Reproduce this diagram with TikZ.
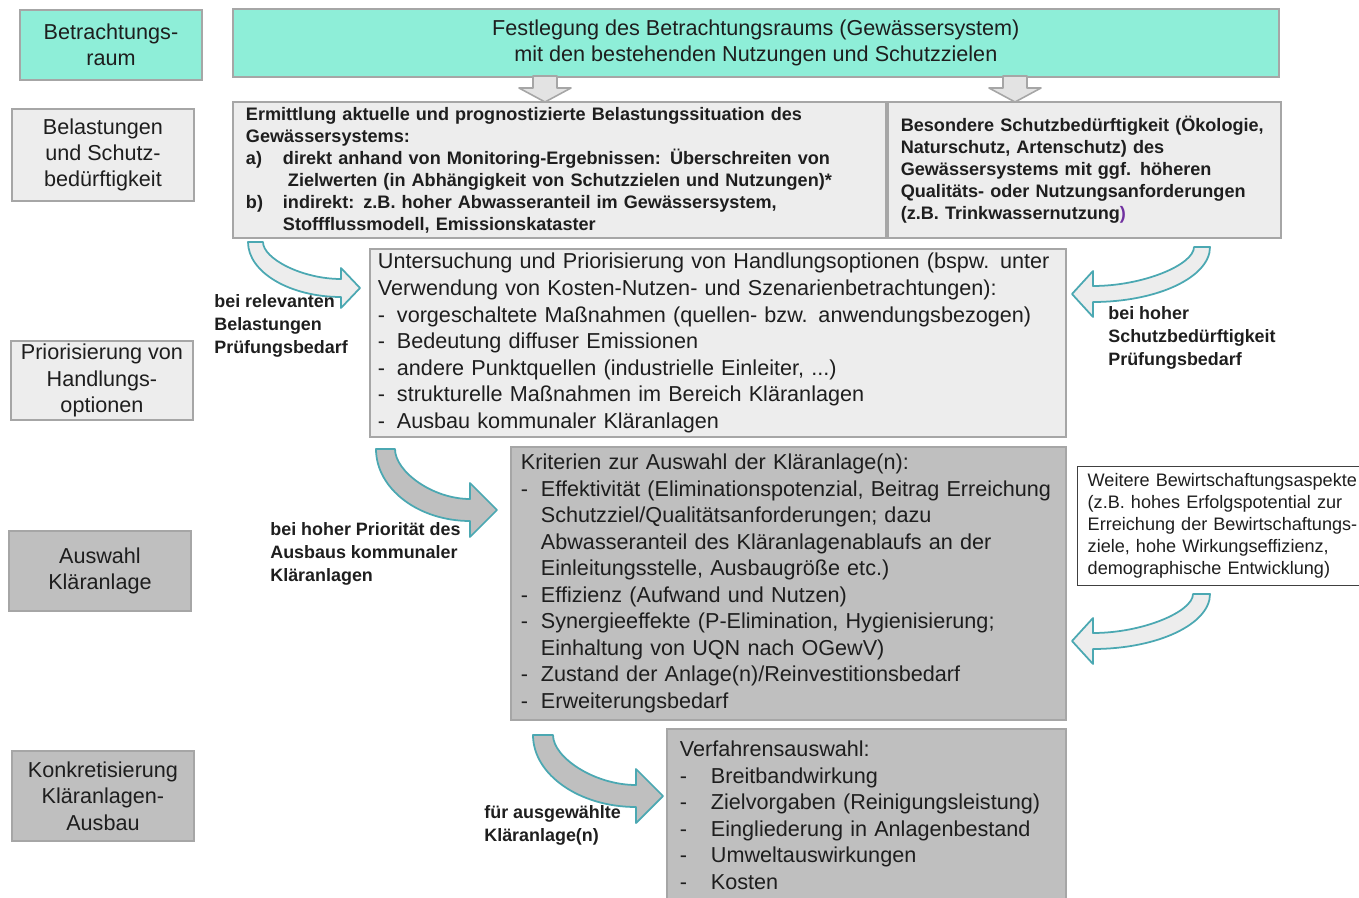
\documentclass[tikz,border=0pt]{standalone}
\usepackage{fontspec}
\setmainfont{Liberation Sans}
\usetikzlibrary{calc}
\definecolor{mint}{RGB}{142,238,216}
\definecolor{lightbox}{RGB}{237,237,237}
\definecolor{darkbox}{RGB}{191,191,191}
\definecolor{boxline}{RGB}{166,166,166}
\definecolor{arrline}{RGB}{75,168,178}
\definecolor{txt}{RGB}{30,30,30}
\definecolor{lila}{RGB}{112,48,160}
\newcommand\setfs[2]{\fontsize{#1}{#2}\selectfont}
\newcommand\dashit[1]{\par\noindent\makebox[#1][l]{-}\ignorespaces}
\newcommand\contit[1]{\par\noindent\hspace*{#1}\ignorespaces}
\tikzset{box/.style={draw=boxline,line width=1.1pt,anchor=north west,inner sep=0pt,text=txt},
  sidelabel/.style={box,minimum width=3.64cm,align=center,font=\setfs{12.3}{15}},
  mainbox/.style={box,font=\setfs{12.3}{15.1}},
  boldbox/.style={box,font=\bfseries\setfs{10.3}{12.5}},
  armnote/.style={anchor=west,align=left,font=\bfseries\setfs{10.2}{13.2},text=txt,inner sep=0pt},
  bentarr/.style={draw=arrline,line width=1pt,line join=round},
  downarr/.style={draw=boxline,fill=gray!22,line width=0.9pt,line join=round}}

\begin{document}
\begin{tikzpicture}[x=0.02cm,y=-0.02cm]
\useasboundingbox (0,0) rectangle (1359,898);
% Ebenen links
\node[sidelabel,fill=mint,minimum height=1.4cm] (raumlbl) at (19,9) {Betrachtungs-\\raum};
\node[sidelabel,fill=lightbox,minimum height=1.84cm] (belastlbl) at (11,108) {Belastungen\\und Schutz-\\bedürftigkeit};
\node[sidelabel,fill=lightbox,minimum height=1.58cm] (priolbl) at (10,340) {Priorisierung von\\Handlungs-\\optionen};
\node[sidelabel,fill=darkbox,minimum height=1.6cm] (wahllbl) at (8,530) {Auswahl\\Kläranlage};
\node[sidelabel,fill=darkbox,minimum height=1.8cm] (konklbl) at (11,750) {Konkretisierung\\Kläranlagen-\\Ausbau};
% Ablauf
\node[mainbox,fill=mint,minimum width=20.92cm,minimum height=1.36cm,align=center] (raum) at (232,8) {Festlegung des Betrachtungsraums (Gewässersystem)\\mit den bestehenden Nutzungen und Schutzzielen};
\node[boldbox,fill=lightbox,minimum width=13.06cm,minimum height=2.72cm,text width=12.54cm] (belast) at (232,101) {Ermittlung aktuelle und prognostizierte Belastungssituation des\\Gewässersystems:\\\makebox[0.74cm][l]{a)}direkt anhand von Monitoring-Ergebnissen: Überschreiten von\\\hspace*{0.84cm}Zielwerten (in Abhängigkeit von Schutzzielen und Nutzungen)*\\\makebox[0.74cm][l]{b)}indirekt: z.B. hoher Abwasseranteil im Gewässersystem,\\\hspace*{0.74cm}Stoffflussmodell, Emissionskataster};
\node[boldbox,fill=lightbox,minimum width=7.86cm,minimum height=2.72cm,text width=7.34cm] (schutz) at (belast.north east) {Besondere Schutzbedürftigkeit (Ökologie,\\Naturschutz, Artenschutz) des\\Gewässersystems mit ggf. höheren\\Qualitäts- oder Nutzungsanforderungen\\(z.B. Trinkwassernutzung{\color{lila})}};
\node[mainbox,fill=lightbox,minimum width=13.92cm,minimum height=3.76cm,text width=13.6cm] (pruef) at (369,248) {Untersuchung und Priorisierung von Handlungsoptionen (bspw. unter\linebreak Verwendung von Kosten-Nutzen- und Szenarienbetrachtungen):
\dashit{0.38cm}vorgeschaltete Maßnahmen (quellen- bzw. anwendungsbezogen)
\dashit{0.38cm}Bedeutung diffuser Emissionen
\dashit{0.38cm}andere Punktquellen (industrielle Einleiter, ...)
\dashit{0.38cm}strukturelle Maßnahmen im Bereich Kläranlagen
\dashit{0.38cm}Ausbau kommunaler Kläranlagen};
\node[mainbox,fill=darkbox,minimum width=11.1cm,minimum height=5.46cm,text width=10.7cm] (krit) at (510,446) {Kriterien zur Auswahl der Kläranlage(n):
\dashit{0.4cm}Effektivität (Eliminationspotenzial, Beitrag Erreichung
\contit{0.4cm}Schutzziel/Qualitätsanforderungen; dazu
\contit{0.4cm}Abwasseranteil des Kläranlagenablaufs an der
\contit{0.4cm}Einleitungsstelle, Ausbaugröße etc.)
\dashit{0.4cm}Effizienz (Aufwand und Nutzen)
\dashit{0.4cm}Synergieeffekte (P-Elimination, Hygienisierung;
\contit{0.4cm}Einhaltung von UQN nach OGewV)
\dashit{0.4cm}Zustand der Anlage(n)/Reinvestitionsbedarf
\dashit{0.4cm}Erweiterungsbedarf};
\node[box,draw=black!75,line width=0.8pt,fill=white,font=\setfs{10.3}{12.5},minimum width=5.86cm,minimum height=2.38cm,text width=5.46cm] (weitere) at (1077,466) {Weitere Bewirtschaftungsaspekte\\(z.B. hohes Erfolgspotential zur\\Erreichung der Bewirtschaftungs-\\ziele, hohe Wirkungseffizienz,\\demographische Entwicklung)};
\node[mainbox,fill=darkbox,minimum width=7.98cm,text width=7.46cm,inner ysep=0.24cm] (verf) at (666,728) {Verfahrensauswahl:
\dashit{0.62cm}Breitbandwirkung
\dashit{0.62cm}Zielvorgaben (Reinigungsleistung)
\dashit{0.62cm}Eingliederung in Anlagenbestand
\dashit{0.62cm}Umweltauswirkungen
\dashit{0.62cm}Kosten};
% Pfeile
\foreach \cx in {545,1015}
  \draw[downarr] (\cx-12,76) -- (\cx+12,76) -- (\cx+12,88) -- (\cx+26,88) -- (\cx,102) -- (\cx-26,88) -- (\cx-12,88) -- cycle;
\foreach \xo/\xi/\yo/\hx/\tx/\ty/\h/\s/\fc in {248/263/242/341/360/288/20/9/lightbox,1210/1194/247/1093/1072/294/23/8/lightbox,376/395/449/470/497/510/27/11/darkbox,1210/1193/594/1093/1072/641/23/8/lightbox,533/553/735/636/663/796/27/11/darkbox}
  \draw[bentarr,fill=\fc] (\xo,\yo) .. controls (\xo,{\yo+0.55*(\ty+\s-\yo)}) and ({\xo+0.45*(\hx-\xo)},\ty+\s) .. (\hx,\ty+\s) -- (\hx,\ty+\h) -- (\tx,\ty) -- (\hx,\ty-\h) -- (\hx,\ty-\s) .. controls ({\xi+0.5*(\hx-\xi)},\ty-\s) and (\xi,{\yo+0.45*(\ty-\s-\yo)}) .. (\xi,\yo) -- cycle;
\node[armnote] (noteA) at (214,326) {bei relevanten\\Belastungen\\Prüfungsbedarf};
\node[armnote] (noteB) at (1108,338) {bei hoher\\Schutzbedürftigkeit\\Prüfungsbedarf};
\node[armnote] (noteC) at (270,554) {bei hoher Priorität des\\Ausbaus kommunaler\\Kläranlagen};
\node[armnote] (noteD) at (484,825) {für ausgewählte\\Kläranlage(n)};
\end{tikzpicture}
\end{document}
